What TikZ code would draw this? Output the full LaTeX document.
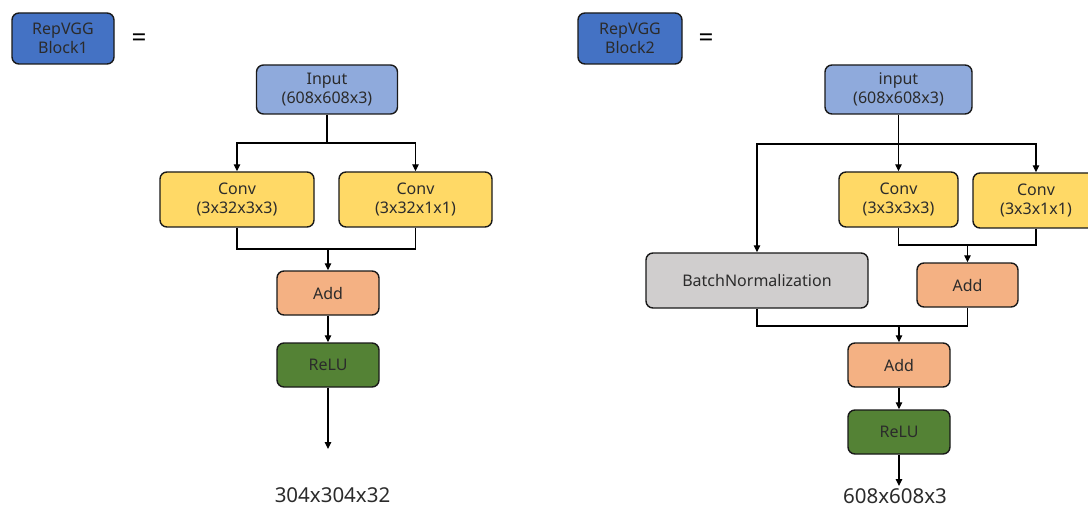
\documentclass[tikz,border=0pt]{standalone}
\usepackage{fontspec}
\setmainfont{Noto Sans}
\usetikzlibrary{arrows.meta}
\definecolor{blockblue}{HTML}{4472C4}
\definecolor{inblue}{HTML}{8FAADC}
\definecolor{convyellow}{HTML}{FFD966}
\definecolor{addorange}{HTML}{F4B183}
\definecolor{relugreen}{HTML}{548235}
\definecolor{bngray}{HTML}{D0CECE}
\definecolor{txt}{HTML}{2B2B2B}
\begin{document}
\begin{tikzpicture}[x=1pt,y=-1pt,
  box/.style={draw=black!90,line width=1.4pt,rounded corners=7pt,align=center,
    inner sep=0pt,text=txt,font=\fontsize{16}{19.5}\selectfont},
  blockbox/.style={box,fill=blockblue},
  inbox/.style={box,fill=inblue},
  convbox/.style={box,fill=convyellow},
  addbox/.style={box,fill=addorange},
  relubox/.style={box,fill=relugreen},
  bnbox/.style={box,fill=bngray},
  eqsign/.style={font=\bfseries\fontsize{26}{28}\selectfont,text=black,inner sep=0pt},
  outlabel/.style={font=\fontsize{20.5}{24}\selectfont,text=txt,inner sep=0pt},
  wire/.style={line width=1.2pt,draw=black},
  flow/.style={wire,-{Triangle[length=7pt,width=6.5pt]}}]
\useasboundingbox (0,0) rectangle (1088,508);

% ---------------- RepVGG Block1 ----------------
\node[blockbox,minimum width=102pt,minimum height=51pt] (b1) at (63,38.5) {RepVGG\\Block1};
\node[eqsign] (eq1) at (139,40) {=};
\node[inbox,minimum width=141pt,minimum height=49pt] (in1) at (327,89.5) {Input\\(608x608x3)};
\node[convbox,minimum width=154pt,minimum height=55pt] (c11) at (237,199.5) {Conv\\(3x32x3x3)};
\node[convbox,minimum width=153pt,minimum height=55pt] (c12) at (415.5,199.5) {Conv\\(3x32x1x1)};
\node[addbox,minimum width=102pt,minimum height=44pt] (add1) at (328,293) {Add};
\node[relubox,minimum width=102pt,minimum height=44pt] (relu1) at (328,365) {ReLU};
\coordinate (o1) at (328,449);
\node[outlabel] (lab1) at (332.5,495.5) {304x304x32};

\coordinate (s1) at (327,143);
\coordinate (m1) at (328,249);
\draw[wire] (in1.south) -- (s1);
\draw[flow] (s1) -| (c11.north);
\draw[flow] (s1) -| (c12.north);
\draw[wire] (c11.south) |- (m1);
\draw[wire] (c12.south) |- (m1);
\draw[flow] (m1) -- (add1.north);
\draw[flow] (add1.south) -- (relu1.north);
\draw[flow] (relu1.south) -- (o1);

% ---------------- RepVGG Block2 ----------------
\node[blockbox,minimum width=104pt,minimum height=51pt] (b2) at (630,38.5) {RepVGG\\Block2};
\node[eqsign] (eq2) at (706,40) {=};
\node[inbox,minimum width=147pt,minimum height=49pt] (in2) at (898.5,89.5) {input\\(608x608x3)};
\node[convbox,minimum width=119pt,minimum height=55pt] (c21) at (898.5,199.5) {Conv\\(3x3x3x3)};
\node[convbox,minimum width=126pt,minimum height=55pt] (c22) at (1036,200.5) {Conv\\(3x3x1x1)};
\node[bnbox,minimum width=222pt,minimum height=55pt] (bn) at (757,280.5) {BatchNormalization};
\node[addbox,minimum width=101pt,minimum height=44pt] (addA) at (967.5,285) {Add};
\node[addbox,minimum width=102pt,minimum height=44pt] (addB) at (899,365) {Add};
\node[relubox,minimum width=102pt,minimum height=44pt] (relu2) at (899,432) {ReLU};
\coordinate (o2) at (899,486);
\node[outlabel] (lab2) at (895,496.5) {608x608x3};

\coordinate (s2) at (898.5,144);
\coordinate (m2) at (967.5,245);
\coordinate (m3) at (899,326);
\draw[wire] (in2.south) -- (s2);
\draw[flow] (s2) -| (bn.north);
\draw[flow] (s2) -- (c21.north);
\draw[flow] (s2) -| (c22.north);
\draw[wire] (c21.south) |- (m2);
\draw[wire] (c22.south) |- (m2);
\draw[flow] (m2) -- (addA.north);
\draw[wire] (bn.south) |- (m3);
\draw[wire] (addA.south) |- (m3);
\draw[flow] (m3) -- (addB.north);
\draw[flow] (addB.south) -- (relu2.north);
\draw[flow] (relu2.south) -- (o2);
\end{tikzpicture}
\end{document}
